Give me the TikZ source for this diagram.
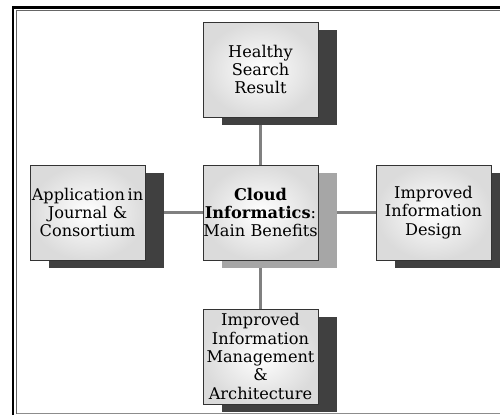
\documentclass[tikz,border=0pt]{standalone}
\usepackage{fontspec}
\setmainfont{DejaVu Serif}
\usetikzlibrary{shadows}

\definecolor{shadowdark}{HTML}{404040}
\definecolor{shadowlight}{HTML}{A6A6A6}
\definecolor{linkgray}{HTML}{808080}

\pgfdeclarelayer{background}
\pgfsetlayers{background,main}

\tikzset{
  benefit/.style={draw=black!80, line width=0.5pt, shade, shading=radial,
    inner color=white, outer color=black!14,
    minimum width=2.3cm, minimum height=1.9cm, text width=2.3cm,
    align=center, inner sep=0pt,
    font=\fontsize{9.2}{10.5}\selectfont,
    drop shadow={shadow xshift=0.38cm, shadow yshift=-0.16cm,
      fill=#1, opacity=1}},
  benefit/.default=shadowdark,
  link/.style={draw=linkgray, line width=1.7pt}
}

\begin{document}
\begin{tikzpicture}
\useasboundingbox (0,0) rectangle (10,8.3);

% frame of the figure
\draw[line width=1.2pt] (0.26,0) -- (0.26,8.15) -- (10,8.15);
\draw[black!60, line width=0.6pt] (0.33,0.03) -- (0.33,8.09) -- (10,8.09);
\draw[black!45, line width=0.6pt] (0.33,0.03) -- (10,0.03);

\node[benefit=shadowlight] (hub) at (5.21,4.05)
  {\textbf{Cloud}\\\textbf{Informatics}:\\Main Benefits};
\node[benefit] (search) at (5.21,6.91) {Healthy\\Search\\Result};
\node[benefit] (journal) at (1.75,4.05) {Application\,in\\Journal \&\\Consortium};
\node[benefit] (design) at (8.67,4.05) {Improved\\Information\\Design};
\node[benefit] (manage) at (5.21,1.17)
  {Improved\\Information\\Management\\\&\\Architecture};

% links behind the boxes
\begin{pgfonlayer}{background}
\foreach \b in {search,journal,design,manage} {
    \draw[link] (hub) -- (\b);
}
\end{pgfonlayer}
\end{tikzpicture}
\end{document}
